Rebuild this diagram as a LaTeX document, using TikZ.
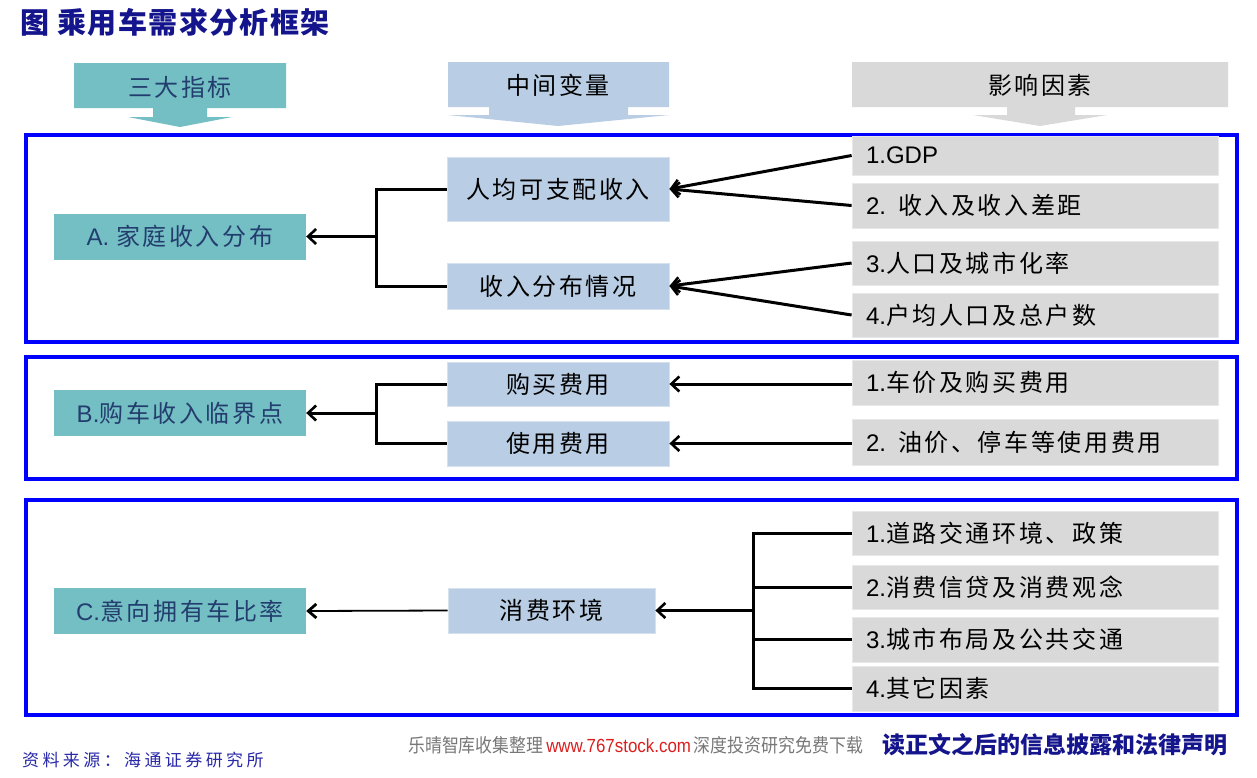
\documentclass[tikz,border=0pt]{standalone}
\usepackage{fontspec}
\setmainfont{Liberation Sans}[Scale=1.0]
\newfontfamily\cjk{Noto Sans CJK SC}[LetterSpace=11]
\newfontfamily\cjkt{Noto Sans CJK SC}
\usetikzlibrary{arrows.meta}
\definecolor{frameblue}{RGB}{0,0,255}
\definecolor{tealbox}{RGB}{116,191,196}
\definecolor{bluebox}{RGB}{185,205,228}
\definecolor{graybox}{RGB}{217,217,217}
\definecolor{tealtext}{RGB}{35,62,110}
\definecolor{titleblue}{RGB}{20,20,140}
\definecolor{srcblue}{RGB}{40,40,170}
\definecolor{wmgray}{RGB}{120,120,120}
\definecolor{wmred}{RGB}{220,30,30}
\newcommand\zh[1]{{\cjk #1}}
\tikzset{
  frame/.style={draw=frameblue, line width=4pt},
  tealnode/.style={fill=tealbox, inner sep=0pt, minimum width=252pt, minimum height=46pt,
    text=tealtext, font=\fontsize{24}{28}\selectfont},
  midnode/.style={fill=bluebox, draw=bluebox!60!white, line width=0.8pt, inner sep=0pt,
    minimum width=222pt, text=black, font=\fontsize{24}{28}\selectfont},
  rnode/.style={fill=graybox, draw=graybox!60!white, line width=0.8pt, inner ysep=0pt,
    inner xsep=14pt, text width=338pt, align=left, text=black, font=\fontsize{24}{28}\selectfont},
  hdrtext/.style={inner sep=0pt, font=\fontsize{24}{28}\selectfont},
  conn/.style={draw=black, line width=3pt},
  tip/.style={-{Straight Barb[length=8pt,width=15pt,line width=2.6pt]}},
  thinconn/.style={draw=black, line width=1.8pt, -{Straight Barb[length=8pt,width=14pt,line width=2.8pt]}},
}
\begin{document}
\begin{tikzpicture}[x=1pt,y=-1pt]
\useasboundingbox (0,0) rectangle (1257,777);
\fill[white] (0,0) rectangle (1257,777);

% title
\node[anchor=west, inner sep=0pt, text=titleblue, font=\fontsize{29}{32}\selectfont\cjkt\bfseries\addfontfeature{LetterSpace=5}] (title) at (20,22) {图 乘用车需求分析框架};

% header arrows
\fill[tealbox] (74,63)--(286,63)--(286,108)--(207,108)--(207,117)--(232,117)--(180,127)--(128,117)--(153,117)--(153,108)--(74,108)--cycle;
\fill[bluebox] (448,62)--(669,62)--(669,107)--(628,107)--(628,115)--(669,115)--(558,126)--(448,115)--(489,115)--(489,107)--(448,107)--cycle;
\fill[graybox] (852,62)--(1228,62)--(1228,107)--(1075,107)--(1075,115)--(1107,115)--(1040,126)--(973,115)--(1007,115)--(1007,107)--(852,107)--cycle;
\node[hdrtext, text=tealtext] (h1) at (180,87) {\zh{三大指标}};
\node[hdrtext, text=black] (h2) at (558,85) {\zh{中间变量}};
\node[hdrtext, text=black] (h3) at (1040,85) {\zh{影响因素}};

% frames
\draw[frame] (26,135) rectangle (1237,341.5);
\draw[frame] (26,357) rectangle (1237,479);
\draw[frame] (26,500) rectangle (1237,715);

% left teal nodes
\node[tealnode] (tA) at (180,236.5) {A. \zh{家庭收入分布}};
\node[tealnode] (tB) at (180,413) {B.\zh{购车收入临界点}};
\node[tealnode] (tC) at (180,611) {C.\zh{意向拥有车比率}};

% middle nodes
\node[midnode, minimum height=64pt] (m1) at (558,189) {\zh{人均可支配收入}};
\node[midnode, minimum height=46pt] (m2) at (558,286) {\zh{收入分布情况}};
\node[midnode, minimum height=44pt] (m3) at (558,384) {\zh{购买费用}};
\node[midnode, minimum height=45pt] (m4) at (558,443.5) {\zh{使用费用}};
\node[midnode, minimum height=45pt, minimum width=207pt] (m5) at (551.5,610.5) {\zh{消费环境}};

% right nodes
\node[rnode, minimum height=39pt] (r1) at (1035,155.5) {1.GDP};
\node[rnode, minimum height=45pt] (r2) at (1035,205.5) {2. \zh{收入及收入差距}};
\node[rnode, minimum height=44pt] (r3) at (1035,263) {3.\zh{人口及城市化率}};
\node[rnode, minimum height=44pt] (r4) at (1035,315) {4.\zh{户均人口及总户数}};
\node[rnode, minimum height=45pt] (r5) at (1035,382.5) {1.\zh{车价及购买费用}};
\node[rnode, minimum height=46pt] (r6) at (1035,442) {2. \zh{油价、停车等使用费用}};
\node[rnode, minimum height=44pt] (r7) at (1035,533) {1.\zh{道路交通环境、政策}};
\node[rnode, minimum height=44pt] (r8) at (1035,587) {2.\zh{消费信贷及消费观念}};
\node[rnode, minimum height=45pt] (r9) at (1035,639.5) {3.\zh{城市布局及公共交通}};
\node[rnode, minimum height=45pt] (r10) at (1035,688.5) {4.\zh{其它因素}};

% section A connectors
\coordinate (jA) at (376,236.5);
\draw[conn] (m1.west) -| (jA) |- (m2.west);
\draw[conn, tip] (jA) -- (tA.east);
\draw[conn, tip] (r1.west) -- (m1.east);
\draw[conn, tip] (r2.west) -- (m1.east);
\draw[conn, tip] (r3.west) -- (m2.east);
\draw[conn, tip] (r4.west) -- (m2.east);

% section B connectors
\coordinate (jB) at (376,413);
\draw[conn] (m3.west) -| (jB) |- (m4.west);
\draw[conn, tip] (jB) -- (tB.east);
\draw[conn, tip] (r5.west |- m3.east) -- (m3.east);
\draw[conn, tip] (r6.west |- m4.east) -- (m4.east);

% section C connectors
\coordinate (jC) at (753,610.5);
\draw[conn] (r7.west) -| (jC) |- (r10.west);
\draw[conn] (r8.west) -- (r8.west -| jC);
\draw[conn] (r9.west) -- (r9.west -| jC);
\draw[conn, tip] (jC) -- (m5.east);
\draw[thinconn] (m5.west) -- (tC.east);

% footer
\node[anchor=west, inner sep=0pt, text=srcblue, font=\fontsize{17}{20}\selectfont\cjk\addfontfeature{LetterSpace=20}] (src) at (22,760) {资料来源：海通证券研究所};
\node[anchor=west, inner sep=0pt, xscale=0.89, transform shape, font=\fontsize{19}{22}\selectfont\cjkt] (wm) at (408,745)
  {\color{wmgray}乐晴智库收集整理\,\color{wmred}{\rmfamily\fontsize{19}{22}\selectfont www.767stock.com}\,\color{wmgray}深度投资研究免费下载};
\node[anchor=east, inner sep=0pt, text=titleblue, font=\fontsize{23}{26}\selectfont\cjkt\bfseries] (legal) at (1228,745) {读正文之后的信息披露和法律声明};
\end{tikzpicture}
\end{document}
